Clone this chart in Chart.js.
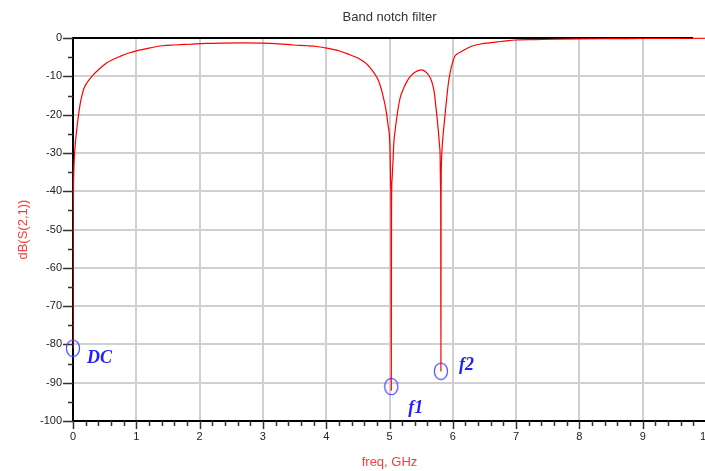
<!DOCTYPE html>
<html>
<head>
<meta charset="utf-8">
<script src="https://cdn.jsdelivr.net/npm/chart.js@4.4.1/dist/chart.umd.min.js"></script>
<style>
  html, body { margin: 0; padding: 0; background: #fff; overflow: hidden; }
  #wrap { width: 720px; height: 471px; }
</style>
</head>
<body>
<div id="wrap"><canvas id="notchChart" width="720" height="471"></canvas></div>
<script>
// S21 of the band notch filter
const freqGHz = [
  0, 0.003, 0.006, 0.01, 0.015, 0.03, 0.058, 0.084, 0.11, 0.137, 0.17, 0.216, 0.27, 0.32,
  0.42, 0.53, 0.63, 0.74, 0.88, 1.03, 1.2, 1.42, 1.6, 1.85, 2.1, 2.32, 2.7, 3.0, 3.25,
  3.48, 3.7, 3.85, 4.01, 4.2, 4.38, 4.5, 4.59, 4.66, 4.72, 4.78, 4.82, 4.87, 4.9, 4.94,
  4.96, 4.98, 5.0, 5.01, 5.018, 5.024, 5.028, 5.032, 5.04, 5.05, 5.07, 5.09, 5.11, 5.14,
  5.17, 5.22, 5.27, 5.32, 5.38, 5.45, 5.51, 5.57, 5.62, 5.66, 5.69, 5.71, 5.73, 5.75,
  5.77, 5.79, 5.8, 5.805, 5.809, 5.812, 5.815, 5.82, 5.83, 5.84, 5.86, 5.88, 5.905, 5.93,
  5.955, 5.98, 6.03, 6.08, 6.14, 6.22, 6.32, 6.42, 6.54, 6.7, 6.85, 7.0, 7.3, 7.6, 8.0,
  8.5, 9.0, 9.5, 10.0
];
const s21dB = [
  -81, -48, -42, -37, -33.5, -29, -24, -20.5, -17.5, -15.3, -13.3, -11.8, -10.6, -9.6,
  -8, -6.5, -5.6, -4.8, -3.9, -3.2, -2.6, -2.0, -1.8, -1.6, -1.4, -1.3, -1.25, -1.3, -1.5,
  -1.8, -2.0, -2.2, -2.6, -3.3, -4.4, -5.2, -6.1, -7.1, -8.3, -9.7, -10.9, -13.3, -15.3, -18.3,
  -20.5, -23, -25.7, -30, -38, -44, -92, -44, -37, -34, -27, -24, -21.4, -18,
  -15.5, -13.2, -11.5, -10.2, -9.2, -8.5, -8.3, -8.8, -9.7, -11, -12.7, -14.5, -17.5, -20.5,
  -24, -28, -31, -38, -43, -87, -43, -33, -29, -26.6, -23, -19.6, -15.5, -11.8,
  -9.3, -7.4, -4.8, -4.0, -3.5, -2.7, -2.0, -1.6, -1.3, -1.0, -0.7, -0.5, -0.4, -0.3, -0.2,
  -0.15, -0.1, -0.05, 0
];

// marker points
const markerNames = ["DC", "f1", "f2"];
const markerFreq = [0, 5.028, 5.812];
const markerDb = [-81, -91, -87];

// axis ticks
const xTicks = [0, 1, 2, 3, 4, 5, 6, 7, 8, 9, 10];
const yTicks = [0, -10, -20, -30, -40, -50, -60, -70, -80, -90, -100];

const curve = freqGHz.map((f, i) => ({ x: f, y: s21dB[i] }));
const markers = markerFreq.map((f, i) => ({ x: f, y: markerDb[i] }));

// oval marker like the original
const oval = document.createElement("canvas");
oval.width = 16; oval.height = 19;
(() => {
  const c = oval.getContext("2d");
  c.strokeStyle = "#4a4aff";
  c.lineWidth = 1.2;
  c.beginPath();
  c.ellipse(8, 9.5, 6.6, 8.2, 0, 0, Math.PI * 2);
  c.stroke();
})();

const labelOffsets = [[14, 15], [17, 26], [18, -1]];

const decorations = {
  id: "decorations",
  beforeDatasetsDraw(chart) {
    const { ctx, chartArea: a, scales: { x, y } } = chart;
    ctx.save();
    ctx.strokeStyle = "#333";
    ctx.lineWidth = 1.5;
    ctx.beginPath();
    for (let v = 0; v <= 100; v += 5) {
      const py = Math.round(y.getPixelForValue(-v)) + 0.5;
      const len = v % 10 === 0 ? 10 : 5;
      ctx.moveTo(a.left - len, py);
      ctx.lineTo(a.left, py);
    }
    for (let k = 0; k <= 50; k++) {
      const px = Math.round(x.getPixelForValue(k * 0.2)) + 0.5;
      const len = k % 5 === 0 ? 8 : 5;
      ctx.moveTo(px, a.bottom);
      ctx.lineTo(px, a.bottom + len);
    }
    ctx.stroke();
    // top frame line
    ctx.strokeStyle = "#000";
    ctx.lineWidth = 2;
    ctx.beginPath();
    ctx.moveTo(a.left, a.top);
    ctx.lineTo(a.right - 13, a.top);
    ctx.stroke();
    ctx.restore();
  },
  afterDatasetsDraw(chart) {
    const { ctx, scales: { x, y } } = chart;
    ctx.save();
    ctx.fillStyle = "#1f1fff";
    ctx.font = "italic bold 18px 'Liberation Serif', 'DejaVu Serif', serif";
    ctx.textAlign = "left";
    ctx.textBaseline = "alphabetic";
    markerNames.forEach((name, i) => {
      const px = x.getPixelForValue(markerFreq[i]);
      const py = y.getPixelForValue(markerDb[i]);
      ctx.fillText(name, px + labelOffsets[i][0], py + labelOffsets[i][1]);
    });
    ctx.restore();
  }
};

const tickFont = { family: "'Liberation Sans', Arial, sans-serif", size: 11 };

new Chart(document.getElementById("notchChart"), {
  type: "line",
  data: {
    datasets: [
      {
        data: curve,
        borderColor: "#ff0000",
        borderWidth: 1.2,
        pointRadius: 0,
        cubicInterpolationMode: "monotone",
        fill: false
      },
      {
        data: markers,
        showLine: false,
        pointStyle: oval,
        pointRadius: 8,
        clip: false
      }
    ]
  },
  options: {
    responsive: false,
    devicePixelRatio: 1,
    animation: false,
    layout: { padding: { left: 0, right: 14, top: 0, bottom: 0 } },
    plugins: {
      legend: { display: false },
      tooltip: { enabled: false },
      title: {
        display: true,
        text: "Band notch filter",
        fullSize: false,
        color: "#333",
        font: { family: "'Liberation Sans', Arial, sans-serif", size: 13, weight: "normal" },
        padding: { top: 9.5, bottom: 13 }
      }
    },
    scales: {
      x: {
        type: "linear",
        min: 0,
        max: 10,
        afterBuildTicks: s => { s.ticks = xTicks.map(v => ({ value: v })); },
        afterFit: s => { s.height = 50; s.paddingLeft = 0; s.paddingRight = 0; },
        grid: { color: "#d0d0d0", lineWidth: 2, drawTicks: false },
        border: { color: "#000", width: 2 },
        ticks: { color: "#222", font: tickFont, padding: 9, maxRotation: 0, autoSkip: false },
        title: {
          display: true,
          text: "freq, GHz",
          color: "#ff3b3b",
          font: { family: "'Liberation Sans', Arial, sans-serif", size: 13 },
          padding: { top: 0, bottom: 1 }
        }
      },
      y: {
        min: -100,
        max: 0,
        afterBuildTicks: s => { s.ticks = yTicks.map(v => ({ value: v })); },
        afterFit: s => { s.width = 73; s.paddingTop = 0; s.paddingBottom = 0; },
        grid: { color: "#d0d0d0", lineWidth: 2, drawTicks: false },
        border: { color: "#000", width: 2 },
        ticks: { color: "#222", font: tickFont, padding: 11 },
        title: {
          display: true,
          text: "dB(S(2,1))",
          color: "#ff3b3b",
          font: { family: "'Liberation Sans', Arial, sans-serif", size: 13 },
          padding: { top: 16, bottom: 0 }
        }
      }
    }
  },
  plugins: [decorations]
});
</script>
</body>
</html>
